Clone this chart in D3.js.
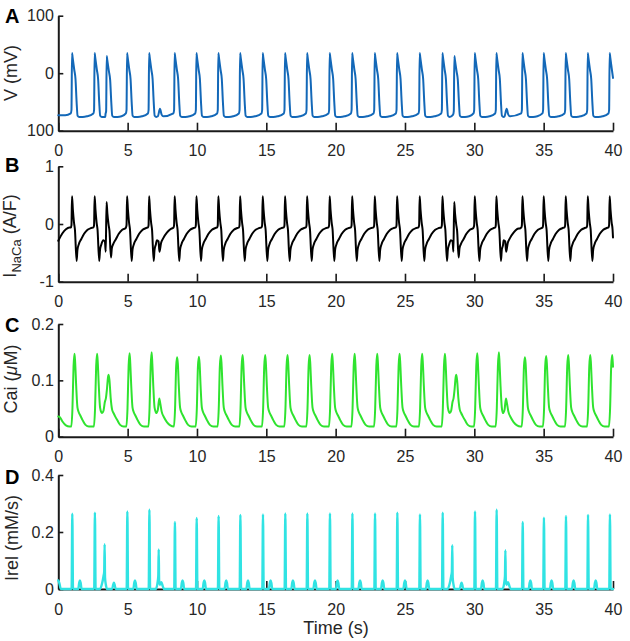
<!DOCTYPE html>
<html><head><meta charset="utf-8">
<script src="https://cdn.jsdelivr.net/npm/d3@7"></script>
<style>
html,body{margin:0;padding:0;background:#fff;}
svg{display:block;font-family:"Liberation Sans",Arial,Helvetica,sans-serif;}
</style>
</head><body>
<svg id="chart" width="630" height="641"></svg>
<script>
// ---------------- data ----------------
const timeTicks = [0,5,10,15,20,25,30,35,40];
const timeTickLabels = ["0","5","10","15","20","25","30","35","40"];

// beat reference times (s) and kind: n = normal AP, e = early (triggered) AP, b = aborted bump
const beatTimes = [0.96,2.59,3.46,4.93,6.52,7.33,8.36,9.93,11.51,13.08,14.71,16.32,17.91,19.54,21.16,22.79,24.40,26.03,27.67,28.53,30.00,31.56,32.33,33.44,34.97,36.56,38.15,39.73];
const beatKinds = ['n','n','e','n','n','b','n','n','n','n','n','n','n','n','n','n','n','n','n','e','n','n','b','n','n','n','n','n'];

// per-beat extreme values
const vPeak    = [35,35,30,35,35,-62,35,35,35,35,35,35,35,35,35,35,35,35,35,30,35,35,-62,35,35,35,35,35];
const naCaPeak = [0.48,0.48,0.38,0.48,0.48,-0.48,0.48,0.48,0.48,0.48,0.48,0.48,0.48,0.48,0.48,0.48,0.48,0.48,0.48,0.38,0.48,0.48,-0.48,0.48,0.48,0.48,0.48,0.48];
const caiPeak  = [0.147,0.147,0.11,0.148,0.15,0.068,0.141,0.142,0.144,0.145,0.145,0.145,0.145,0.147,0.147,0.147,0.147,0.147,0.147,0.11,0.148,0.15,0.068,0.141,0.143,0.145,0.145,0.145];
const irelPeak = [0.264,0.268,0.157,0.272,0.278,0.139,0.235,0.249,0.256,0.26,0.262,0.265,0.265,0.265,0.265,0.265,0.268,0.262,0.268,0.154,0.272,0.278,0.136,0.235,0.25,0.256,0.26,0.262];

const vStart = [[0,-73],[0.5,-73]];
const vShapes = {
  n: [[-0.06,-70],[-0.01,-64],[0.03,null],[0.07,28],[0.19,6],[0.28,-10],[0.36,-50],[0.43,-74],[0.55,-76],[0.8,-76],[1.1,-75]],
  e: [[-0.06,-72],[-0.01,-66],[0.03,null],[0.07,23],[0.19,3],[0.28,-12],[0.36,-50],[0.43,-74],[0.55,-76],[0.8,-76],[1.1,-75]],
  b: [[-0.15,-75],[0,null],[0.12,-72],[0.25,-75]]
};
const naCaStart = [[0,-0.29],[0.3,-0.16],[0.55,-0.09],[0.8,-0.06]];
const naCaShapes = {
  n: [[-0.05,-0.06],[-0.01,-0.02],[0.03,null],[0.09,0.25],[0.17,0.03],[0.24,-0.1],[0.36,-0.64],[0.42,-0.45],[0.52,-0.35],[0.7,-0.26],[0.9,-0.17],[1.15,-0.1],[1.4,-0.07]],
  e: [[-0.22,-0.28],[-0.1,-0.3],[-0.04,-0.48],[0.02,null],[0.08,0.18],[0.16,0.0],[0.23,-0.12],[0.34,-0.58],[0.4,-0.42],[0.5,-0.35],[0.7,-0.26],[0.9,-0.17],[1.15,-0.1],[1.4,-0.07]],
  b: [[-0.22,-0.28],[-0.1,-0.3],[-0.04,null],[0.08,-0.33],[0.25,-0.24],[0.5,-0.15],[0.75,-0.09],[1.0,-0.07]]
};
const caiStart = [[0,0.036],[0.1,0.035],[0.3,0.027],[0.55,0.02],[0.8,0.018]];
const caiShapes = {
  n: [[-0.02,0.018],[0.06,0.05],[0.14,0.125],[0.21,null],[0.26,0.13],[0.33,0.09],[0.42,0.052],[0.52,0.043],[0.62,0.038],[0.8,0.029],[1.0,0.021],[1.25,0.018]],
  e: [[-0.3,0.042],[-0.2,0.046],[-0.1,0.062],[-0.03,0.068],[0.05,0.085],[0.12,0.105],[0.17,null],[0.23,0.1],[0.32,0.068],[0.42,0.048],[0.52,0.042],[0.62,0.037],[0.8,0.029],[1.0,0.021],[1.25,0.018]],
  b: [[-0.27,0.042],[-0.15,0.048],[-0.05,null],[0.03,0.058],[0.12,0.045],[0.3,0.034],[0.5,0.026],[0.75,0.02],[1.0,0.018]]
};
const irelStart = [[0,0.03],[0.08,0.02],[0.18,0]];
const irelShapes = {
  n: [[0.0,0],[0.05,null],[0.1,0],[0.48,0],[0.55,0.022],[0.6,0.03],[0.65,0.022],[0.72,0]],
  e: [[-0.45,0],[-0.3,0.02],[-0.2,0.045],[-0.15,0.06],[-0.12,null],[-0.09,0.04],[-0.03,0.015],[0.05,0],[0.42,0],[0.5,0.015],[0.55,0.022],[0.6,0.015],[0.68,0]],
  b: [[-0.3,0],[-0.18,0.02],[-0.12,0.045],[-0.09,null],[-0.06,0.03],[0.0,0.015],[0.1,0.024],[0.2,0.01],[0.3,0]]
};

const vTicks = [-100,0,100];      const vTickLabels = ["100","0","100"];
const naCaTicks = [-1,0,1];       const naCaTickLabels = ["-1","0","1"];
const caiTicks = [0,0.1,0.2];     const caiTickLabels = ["0","0.1","0.2"];
const irelTicks = [0,0.2,0.4];    const irelTickLabels = ["0","0.2","0.4"];

// ---------------- build series ----------------
function buildSeries(start, shapes, peaks){
  const pts = start.map(d => [d[0], d[1]]);
  beatTimes.forEach((t, i) => {
    const tpl = shapes[beatKinds[i]];
    const nextStart = i + 1 < beatTimes.length ? beatTimes[i+1] + shapes[beatKinds[i+1]][0][0] : Infinity;
    tpl.forEach(([dt, v]) => {
      const tt = t + dt;
      if (tt < nextStart) pts.push([tt, v === null ? peaks[i] : v]);
    });
  });
  const out = [];
  for (let k = 0; k < pts.length; k++) {
    const p = pts[k];
    if (p[0] <= 40) out.push(p);
    else { const q = pts[k-1]; const f = (40 - q[0]) / (p[0] - q[0]); out.push([40, q[1] + f*(p[1]-q[1])]); break; }
  }
  return out;
}

// ---------------- drawing ----------------
const svg = d3.select("#chart");
const x = d3.scaleLinear().domain([0,40]).range([58.3,613]);
const TXT = "#262626";

const panels = [
  {letter:"A", top:15.7, bottom:130.7, domain:[-100,100], ticks:vTicks, tickLabels:vTickLabels,
   data:buildSeries(vStart, vShapes, vPeak), color:"#1368b8", width:2, labelX:17, labelY:73, letterY:23},
  {letter:"B", top:166.3, bottom:281.7, domain:[-1,1], ticks:naCaTicks, tickLabels:naCaTickLabels,
   data:buildSeries(naCaStart, naCaShapes, naCaPeak), color:"#000000", width:2, labelX:16, labelY:236, letterY:171.5},
  {letter:"C", top:324, bottom:436.7, domain:[0,0.2], ticks:caiTicks, tickLabels:caiTickLabels,
   data:buildSeries(caiStart, caiShapes, caiPeak), color:"#2fe32f", width:2, labelX:17, labelY:379, letterY:331.5},
  {letter:"D", top:475, bottom:589, domain:[0,0.4], ticks:irelTicks, tickLabels:irelTickLabels,
   data:buildSeries(irelStart, irelShapes, irelPeak), color:"#30e3e3", width:2.4, labelX:18, labelY:538, letterY:483.5}
];

panels.forEach((p, pi) => {
  const y = d3.scaleLinear().domain(p.domain).range([p.bottom, p.top]);
  const g = svg.append("g");

  const xa = g.append("g").attr("transform", `translate(0,${p.bottom})`)
    .call(d3.axisBottom(x).tickValues(timeTicks).tickFormat((d,i) => timeTickLabels[i]).tickSize(-8).tickSizeOuter(0));
  xa.selectAll("text").attr("y", 25.5).attr("dy", 0).style("font-size", "16px").attr("fill", TXT);

  const ya = g.append("g").attr("transform", `translate(${x(0)},0)`)
    .call(d3.axisLeft(y).tickValues(p.ticks).tickFormat((d,i) => p.tickLabels[i]).tickSize(-5).tickSizeOuter(0).tickPadding(4.5));
  ya.selectAll("text").style("font-size", "16px").attr("fill", TXT);

  [xa, ya].forEach(a => {
    a.attr("font-family", null).attr("font-size", null);
    a.select(".domain").attr("stroke", "#1a1a1a").attr("stroke-width", 2);
    a.selectAll(".tick line").attr("stroke", "#1a1a1a").attr("stroke-width", 1.6);
  });

  g.append("path").datum(p.data)
    .attr("fill", "none").attr("stroke", p.color).attr("stroke-width", p.width)
    .attr("stroke-linejoin", "round").attr("stroke-linecap", "round")
    .attr("d", d3.line().x(d => x(d[0])).y(d => y(d[1])).curve(d3.curveMonotoneX));

  svg.append("text").attr("x", 5).attr("y", p.letterY).text(p.letter)
    .style("font-size", "20px").style("font-weight", "bold").attr("fill", "#000");

  const lab = svg.append("text").attr("transform", `translate(${p.labelX},${p.labelY}) rotate(-90)`)
    .attr("text-anchor", "middle").style("font-size", "18px").attr("fill", TXT);
  if (pi === 0) lab.text("V (mV)");
  if (pi === 1) {
    lab.append("tspan").text("I");
    lab.append("tspan").attr("dy", 5).style("font-size", "13px").text("NaCa");
    lab.append("tspan").attr("dy", -5).text(" (A/F)");
  }
  if (pi === 2) {
    lab.append("tspan").text("Cai (");
    lab.append("tspan").style("font-style", "italic").text("\u03bc");
    lab.append("tspan").text("M)");
  }
  if (pi === 3) lab.text("Irel (mM/s)");
});

svg.append("text").attr("x", 336).attr("y", 634).attr("text-anchor", "middle")
  .style("font-size", "18px").attr("fill", TXT).text("Time (s)");
</script>
</body></html>
